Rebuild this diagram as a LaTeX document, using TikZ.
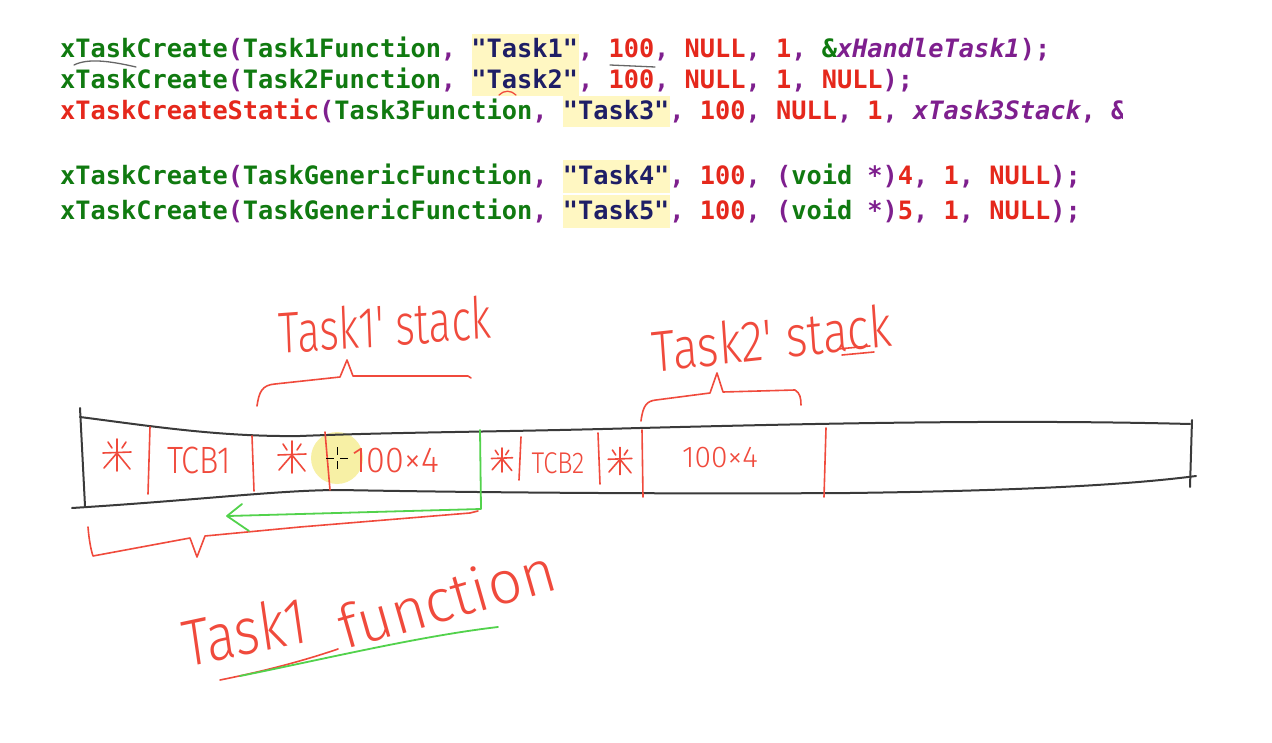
\documentclass[tikz,border=0pt]{standalone}
\usepackage{fontspec}
\setmainfont{Fira Sans}
\newfontfamily\codefont[Ligatures=TeXOff]{DejaVu Sans Mono}
\newfontfamily\hand{Fira Sans Light}
\usetikzlibrary{arrows.meta}
\definecolor{cgreen}{HTML}{107A10}
\definecolor{cred}{HTML}{E5281C}
\definecolor{cpurple}{HTML}{7E1F8E}
\definecolor{cnavy}{HTML}{1E1E66}
\definecolor{hl}{HTML}{FFF7C2}
\definecolor{penred}{HTML}{F04A3C}
\definecolor{pengreen}{HTML}{52D24C}
\definecolor{penblack}{HTML}{3A3A3A}
\definecolor{cursorhl}{HTML}{F6EE96}
\newcommand\kG[1]{\textcolor{cgreen}{#1}}
\newcommand\kR[1]{\textcolor{cred}{#1}}
\newcommand\kP[1]{\textcolor{cpurple}{#1}}
\newcommand\kN[1]{\textcolor{cnavy}{#1}}
\tikzset{
  blk/.style={draw=penblack, line width=2pt, line cap=round, line join=round},
  rpen/.style={draw=penred, line width=1.6pt, line cap=round, line join=round},
  gpen/.style={draw=pengreen, line width=1.8pt, line cap=round, line join=round},
  hw/.style={text=penred, inner sep=0pt},
  codeline/.style={anchor=base west, inner sep=0pt, font=\codefont\bfseries\fontsize{25.3}{30}\selectfont},
  hlbox/.style={fill=hl, draw=none},
  asterisk/.pic={
    \draw[rpen] (-14,-2) -- (14,-3);
    \draw[rpen] (0,-16) -- (0,16);
    \draw[rpen] (0,-2) -- (-13,13);
    \draw[rpen] (0,-2) -- (13,14);
    \draw[rpen] (-9,-13) -- (-5,-7);
    \draw[rpen] (9,-13) -- (5,-7);
  }
}
\begin{document}
\begin{tikzpicture}[x=1pt,y=-1pt]
\useasboundingbox (0,0) rectangle (1272,743);
\fill[white] (0,0) rectangle (1272,743);

% ---------- code highlight boxes ----------
\fill[hlbox] (471.75,34) rectangle (578.5,65);
\fill[hlbox] (471.75,65) rectangle (578.5,96);
\fill[hlbox] (563.25,96) rectangle (670,127);
\fill[hlbox] (563.25,160) rectangle (670,193);
\fill[hlbox] (563.25,195) rectangle (670,228);

% ---------- code lines ----------
\node[codeline] (c1) at (60,58) {\kG{xTaskCreate}\kP{(}\kG{Task1Function}\kP{, }\kN{"Task1"}\kP{, }\kR{100}\kP{, }\kR{NULL}\kP{, }\kR{1}\kP{, }\kG{\&}\kP{\itshape xHandleTask1}\kP{);}};
\node[codeline] (c2) at (60,89) {\kG{xTaskCreate}\kP{(}\kG{Task2Function}\kP{, }\kN{"Task2"}\kP{, }\kR{100}\kP{, }\kR{NULL}\kP{, }\kR{1}\kP{, }\kR{NULL}\kP{);}};
\begin{scope}
\clip (0,90) rectangle (1122,130);
\node[codeline] (c3) at (60,120) {\kR{xTaskCreateStatic}\kP{(}\kG{Task3Function}\kP{, }\kN{"Task3"}\kP{, }\kR{100}\kP{, }\kR{NULL}\kP{, }\kR{1}\kP{, }\kP{\itshape xTask3Stack}\kP{, }\kP{\&}};
\end{scope}
\node[codeline] (c4) at (60,185) {\kG{xTaskCreate}\kP{(}\kG{TaskGenericFunction}\kP{, }\kN{"Task4"}\kP{, }\kR{100}\kP{, }\kP{(}\kG{void }\kP{*)}\kR{4}\kP{, }\kR{1}\kP{, }\kR{NULL}\kP{);}};
\node[codeline] (c5) at (60,220) {\kG{xTaskCreate}\kP{(}\kG{TaskGenericFunction}\kP{, }\kN{"Task5"}\kP{, }\kR{100}\kP{, }\kP{(}\kG{void }\kP{*)}\kR{5}\kP{, }\kR{1}\kP{, }\kR{NULL}\kP{);}};

% small pen marks on the code
\draw[draw=gray!80!black, line width=1.3pt, line cap=round] (74,65) .. controls (88,58) and (110,61) .. (136,67);
\draw[draw=gray!80!black, line width=1.3pt, line cap=round] (610,65) -- (655,67);
\draw[draw=penred, line width=1.3pt, line cap=round] (499,95) .. controls (504,90) and (511,90) .. (516,95);

% ---------- cursor highlight ----------
\fill[cursorhl, opacity=0.85] (337,458) circle (26);

% ---------- memory tape ----------
\draw[blk] (80,417) .. controls (150,426) and (220,437) .. (300,436) .. controls (400,432) and (500,432) .. (640,428) .. controls (800,424) and (1000,419) .. (1190,424);
\draw[blk] (72,508) .. controls (200,500) and (280,490) .. (340,490) .. controls (500,493) and (700,494) .. (850,493) .. controls (1000,491) and (1120,486) .. (1196,476);
\draw[blk] (80,408) -- (85,506);
\draw[blk] (1192,420) -- (1190,487);

% red dividers
\draw[rpen] (150,427) -- (148,494);
\draw[rpen] (252,436) -- (254,491);
\draw[rpen] (325,432) -- (330,490);
\draw[rpen] (521,437) -- (519,480);
\draw[rpen] (598,433) -- (600,484);
\draw[rpen] (642,430) -- (643,497);
\draw[rpen] (826,428) -- (824,497);

% cursor cross
\draw[black, line width=1pt] (326,458) -- (334,458) (340,458) -- (348,458) (337,447) -- (337,455) (337,461) -- (337,469);

% cell contents
\pic at (117,455) {asterisk};
\node[hw, font=\hand\fontsize{38}{40}\selectfont, xscale=0.85] (tcb1) at (199,460) {TCB1};
\pic at (292,457) {asterisk};
\node[hw, font=\hand\fontsize{36}{40}\selectfont, xscale=0.95] (m1) at (396,461) {100×4};
\pic[scale=0.75] at (502,460) {asterisk};
\node[hw, font=\hand\fontsize{30}{32}\selectfont, xscale=0.85] (tcb2) at (558,463) {TCB2};
\pic[scale=0.85] at (620,461) {asterisk};
\node[hw, font=\hand\fontsize{30}{32}\selectfont] (m2) at (720,458) {100×4};

% ---------- braces ----------
\draw[rpen] (257,406) .. controls (259,392) and (262,385) .. (275,384) -- (340,377) -- (347,360) -- (353,376) -- (468,376) -- (471,378);
\draw[rpen] (641,421) .. controls (643,405) and (647,401) .. (656,400) -- (710,393) -- (717,373) -- (723,392) -- (795,390) .. controls (800,393) and (801,398) .. (801,405);
\draw[rpen] (88,527) .. controls (89,540) and (91,550) .. (93,556) -- (190,538) -- (197,557) -- (205,536) -- (300,527) -- (470,513) -- (478,511);

% green arrow
\draw[gpen] (480,430) -- (481,509) -- (228,516);
\draw[gpen] (242,504) -- (227,516) -- (249,531);

% ---------- handwritten labels ----------
\node[hw, font=\hand\fontsize{58}{60}\selectfont, xscale=0.72, rotate=3] (t1s) at (385,325) {Task1' stack};
\node[hw, font=\hand\fontsize{58}{60}\selectfont, xscale=0.8, rotate=5] (t2s) at (772,338) {Task2' stack};
\draw[rpen] (838,349) -- (870,346);
\draw[rpen] (842,355) -- (874,352);

\node[hw, font=\hand\fontsize{66}{70}\selectfont, xscale=0.82, rotate=10, anchor=base west] (t1f) at (186,668) {Task1};
\node[hw, font=\hand\fontsize{60}{64}\selectfont, rotate=16, anchor=base west] (fn) at (345,650) {function};
\draw[rpen] (220,680) .. controls (260,672) and (300,662) .. (338,649);
\draw[gpen] (240,676) .. controls (320,660) and (420,636) .. (498,627);
\end{tikzpicture}
\end{document}
